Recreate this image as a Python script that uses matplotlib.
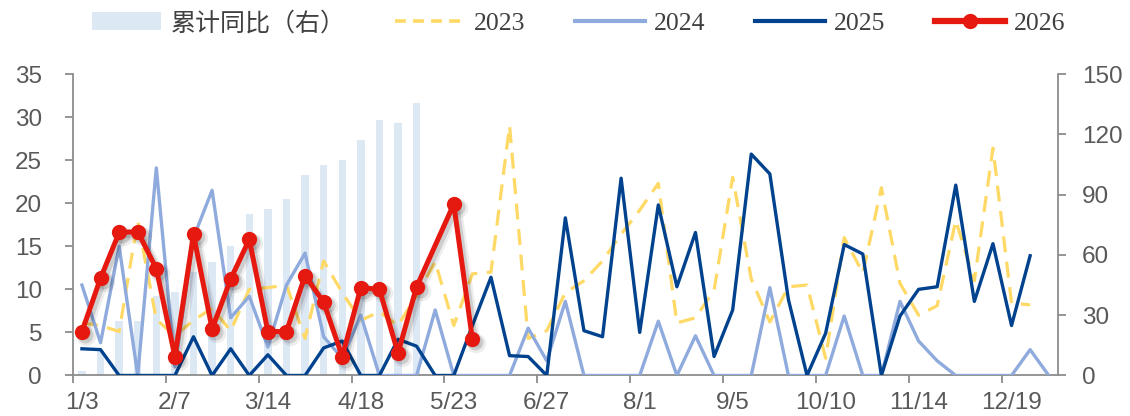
import numpy as np
import matplotlib
matplotlib.use('Agg')
import matplotlib.pyplot as plt
import matplotlib.transforms as mtransforms
from matplotlib.lines import Line2D
from matplotlib.patches import Patch

# ── data (weekly) ─────────────────────────────────────────────────────────────
week_labels = ['1/3', '2/7', '3/14', '4/18', '5/23', '6/27',
               '8/1', '9/5', '10/10', '11/14', '12/19']
n_weeks = 53

# cumulative YoY, right axis
cum_yoy = [2.1, 12.0, 27.0, 27.0, 39.4, 41.4, 51.3, 56.5, 64.6, 80.3,
           83.0, 87.9, 99.7, 104.8, 107.3, 117.2, 127.2, 125.5, 135.8]

y2023 = [6.1, 5.8, 5.1, 18.0, 6.5, 4.6, 6.4, 7.8, 5.2, 10.0,
         10.2, 10.5, 4.3, 13.3, 9.6, 6.4, 7.4, 5.8, 9.3, 13.2,
         5.8, 11.8, 12.0, 29.0, 4.3, 5.2, 9.6, 11.0, 13.3, 16.4,
         19.2, 22.3, 6.1, 6.7, 9.9, 23.0, 11.2, 6.2, 10.3, 10.5,
         2.0, 16.0, 11.9, 21.8, 10.7, 7.0, 8.1, 18.0, 11.0, 26.4,
         8.4, 8.2]

y2024 = [10.5, 3.8, 15.0, 0, 24.1, 1.0, 16.0, 21.5, 6.7, 9.2,
         3.3, 10.5, 14.2, 4.5, 2.0, 7.0, 0, 0, 0, 7.6,
         0, 0, 0, 0, 5.5, 1.7, 8.6, 0, 0, 0,
         0, 6.3, 0, 4.6, 0, 0, 0, 10.2, 0, 0,
         0, 6.9, 0, 0, 8.6, 4.0, 1.7, 0, 0, 0,
         0, 3.0, 0]

y2025 = [3.1, 3.0, 0, 0, 0, 0, 4.5, 0, 3.1, 0,
         2.4, 0, 0, 3.2, 4.0, 0, 0, 4.2, 3.4, 0,
         0, 5.8, 11.4, 2.3, 2.2, 0, 18.3, 5.2, 4.5, 22.9,
         5.0, 19.8, 10.3, 16.6, 2.2, 7.6, 25.7, 23.4, 8.8, 0,
         4.9, 15.2, 14.1, 0, 6.9, 10.0, 10.3, 22.1, 8.6, 15.3,
         5.8, 13.9]

y2026 = [5.1, 11.3, 16.6, 16.7, 12.4, 2.2, 16.4, 5.4, 11.2, 15.8,
         5.1, 5.1, 11.6, 8.5, 2.2, 10.2, 10.0, 2.6, 10.3, np.nan,
         19.9, 4.2]

# ── style ─────────────────────────────────────────────────────────────────────
RED, NAVY, SKY, GOLD, BAR = '#E5190F', '#00428E', '#8FAADC', '#FFD966', '#DDE8F5'
AX_C, TXT_C, LEG_C = '#8C8C8C', '#595959', '#404040'

plt.rcParams['font.family'] = ['Liberation Sans', 'DejaVu Sans']

fig = plt.figure(figsize=(11.3, 4.16), dpi=100)
ax = fig.add_axes([0.0643, 0.0974, 0.8720, 0.7247])
ax2 = ax.twinx()
ax.set_zorder(ax2.get_zorder() + 1)
ax.patch.set_visible(False)

# bars on the right axis
ax2.bar(np.arange(len(cum_yoy)), cum_yoy, width=0.4, color=BAR, zorder=1)

# lines on the left axis
ax.plot(np.arange(len(y2023)), y2023, color=GOLD, lw=2.3, ls=(0, (5, 3)), zorder=2)
ax.plot(np.arange(len(y2024)), y2024, color=SKY, lw=2.4, zorder=3)
ax.plot(np.arange(len(y2025)), y2025, color=NAVY, lw=2.4, zorder=4)

x26 = np.arange(len(y2026))
v26 = np.array(y2026)
ok = ~np.isnan(v26)

# soft drop shadow under the 2026 series (two offset layers)
for dx, lw, ms, alpha in [(4, 6.0, 14, 0.07), (3, 4.0, 11.5, 0.13)]:
    tr = mtransforms.offset_copy(ax.transData, fig=fig, x=dx, y=-dx, units='dots')
    ax.plot(x26[ok], v26[ok], color='k', alpha=alpha, lw=lw, marker='o',
            ms=ms, mew=0, transform=tr, zorder=4.5, solid_joinstyle='round')
ax.plot(x26[ok], v26[ok], color=RED, lw=3.6, marker='o', ms=11, mew=0,
        zorder=5)

# ── axes ──────────────────────────────────────────────────────────────────────
ax.set_xlim(-0.5, n_weeks - 0.5)
ax.set_ylim(0, 35)
ax2.set_ylim(0, 150)
ax.set_yticks(np.arange(0, 36, 5))
ax2.set_yticks(np.arange(0, 151, 30))

ax.set_xticks(np.arange(0, 5 * len(week_labels), 5))
ax.set_xticklabels(week_labels)
ax.set_xticks(np.arange(-0.5, 5 * len(week_labels) - 1, 5), minor=True)

for a in (ax, ax2):
    a.spines['top'].set_visible(False)
ax.spines['right'].set_visible(False)
ax2.spines['left'].set_visible(False)
ax2.spines['bottom'].set_visible(False)
for sp in (ax.spines['left'], ax.spines['bottom'], ax2.spines['right']):
    sp.set_color(AX_C)
    sp.set_linewidth(1.3)

ax.tick_params(axis='y', direction='out', length=6, width=1.3, color=AX_C,
               labelcolor=TXT_C, labelsize=17.5, pad=16)
ax2.tick_params(axis='y', direction='out', length=6, width=1.3, color=AX_C,
                labelcolor=TXT_C, labelsize=17.5, pad=11)
ax.tick_params(axis='x', which='major', length=0, labelcolor=TXT_C,
               labelsize=17.5, pad=12)
ax.tick_params(axis='x', which='minor', direction='out', length=6, width=1.3,
               color=AX_C)

# ── legend ────────────────────────────────────────────────────────────────────
handles = [
    Patch(facecolor=BAR, edgecolor='none'),
    Line2D([], [], color=GOLD, lw=2.6, ls=(0, (3, 2))),
    Line2D([], [], color=SKY, lw=3.0),
    Line2D([], [], color=NAVY, lw=3.0),
    Line2D([], [], color=RED, lw=4.5, marker='o', ms=11, mew=0),
]
labels = ['累计同比（右）', '2023', '2024', '2025', '2026']
leg = fig.legend(handles, labels, loc='center', bbox_to_anchor=(0.512, 0.944),
                 ncol=5, frameon=False, handlelength=2.7, handletextpad=0.35,
                 columnspacing=1.95,
                 prop={'family': ['Liberation Serif', 'Noto Sans CJK SC'],
                       'size': 18.5})
for t in leg.get_texts():
    t.set_color(LEG_C)
leg.get_texts()[0].set_fontsize(18)

fig.savefig('out.png', dpi=100)
